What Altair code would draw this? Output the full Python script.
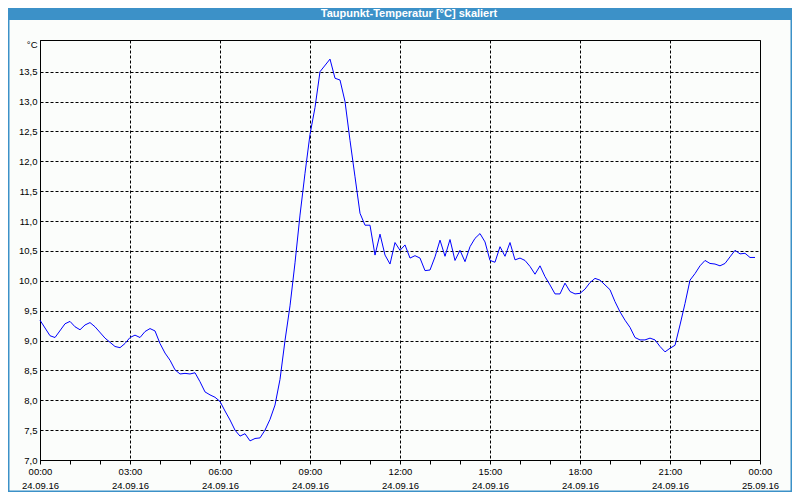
import json
import altair as alt
import pandas as pd

title_text = "Taupunkt-Temperatur [°C] skaliert"
unit_label = "°C"

# minutes after 24.09.16 00:00
minutes = [0, 20, 30, 50, 60, 70, 80, 90, 100, 110, 130, 150, 160, 170, 180, 190, 200,
           210, 220, 230, 240, 250, 260, 270, 280, 290, 300, 310, 320, 330, 340, 350, 360,
           370, 380, 390, 400, 410, 420, 430, 440, 450, 460, 470, 480, 490, 500, 510, 520,
           530, 540, 550, 560, 580, 590, 600, 610, 620, 630, 640, 650, 660, 670, 680, 690,
           700, 710, 720, 730, 740, 750, 760, 770, 780, 790, 800, 810, 820, 830, 840, 850,
           860, 870, 880, 890, 900, 910, 920, 930, 940, 950, 960, 970, 980, 990, 1000, 1010,
           1020, 1030, 1040, 1050, 1060, 1070, 1080, 1090, 1100, 1110, 1120, 1130, 1140, 1150,
           1160, 1170, 1180, 1190, 1200, 1210, 1220, 1230, 1240, 1250, 1260, 1270, 1280, 1290,
           1300, 1310, 1320, 1330, 1340, 1350, 1360, 1370, 1380, 1390, 1400, 1410, 1420, 1430]
dewpoint = [9.34, 9.08, 9.05, 9.28, 9.32, 9.23, 9.18, 9.26, 9.30, 9.23, 9.04, 8.90, 8.88, 8.95, 9.05, 9.09, 9.05,
            9.15, 9.20, 9.16, 8.95, 8.79, 8.67, 8.51, 8.44, 8.45, 8.44, 8.46, 8.31, 8.14, 8.09, 8.05, 7.98,
            7.82, 7.67, 7.50, 7.40, 7.44, 7.32, 7.36, 7.37, 7.50, 7.68, 7.92, 8.35, 9.00, 9.58, 10.30, 11.10,
            11.80, 12.45, 12.90, 13.50, 13.71, 13.39, 13.36, 13.00, 12.35, 11.74, 11.13, 10.93, 10.93, 10.43, 10.78, 10.43,
            10.28, 10.64, 10.51, 10.60, 10.38, 10.42, 10.38, 10.17, 10.18, 10.40, 10.68, 10.41, 10.69, 10.34, 10.51, 10.32,
            10.57, 10.71, 10.79, 10.65, 10.34, 10.31, 10.57, 10.41, 10.64, 10.35, 10.38, 10.34, 10.24, 10.11, 10.25, 10.07,
            9.93, 9.78, 9.78, 9.96, 9.82, 9.78, 9.79, 9.86, 9.97, 10.04, 10.01, 9.93, 9.85, 9.65,
            9.48, 9.34, 9.22, 9.05, 9.01, 9.01, 9.04, 9.01, 8.90, 8.81, 8.87, 8.92, 9.26, 9.62,
            10.01, 10.12, 10.25, 10.34, 10.29, 10.28, 10.25, 10.29, 10.40, 10.51, 10.45, 10.46, 10.39, 10.39]

x_tick_hours = list(range(25))
x_time_labels = ["00:00", "03:00", "06:00", "09:00", "12:00", "15:00", "18:00", "21:00", "00:00"]
x_date_labels = ["24.09.16"] * 8 + ["25.09.16"]
y_tick_values = [7.0, 7.5, 8.0, 8.5, 9.0, 9.5, 10.0, 10.5, 11.0, 11.5, 12.0, 12.5, 13.0, 13.5]
y_tick_labels = ["7,0", "7,5", "8,0", "8,5", "9,0", "9,5", "10,0", "10,5", "11,0", "11,5",
                 "12,0", "12,5", "13,0", "13,5"]

FONT = "Liberation Sans"
BLUE = "#3c91c8"

df = pd.DataFrame({"hour": [m / 60 for m in minutes], "value": dewpoint})

x_label_expr = (
    f"datum.value % 3 === 0 ? [{json.dumps(x_time_labels)}[datum.value / 3], "
    f"{json.dumps(x_date_labels)}[datum.value / 3]] : ''"
)
y_label_expr = f"{json.dumps(y_tick_labels)}[round((datum.value - 7) * 2)]"

x_axis = alt.Axis(
    values=x_tick_hours, tickSize=4, tickColor="black", domainColor="black",
    labelExpr=x_label_expr, labelFlush=False, labelOverlap=False, labelBound=False,
    labelPadding=2, labelLineHeight=14, labelFontSize=9.5, labelFont=FONT, labelColor="black",
    grid=True, gridColor="black", gridDash=[3, 2],
    gridOpacity={"condition": {"test": "datum.value % 3 === 0", "value": 1}, "value": 0},
    title=None,
)
y_axis = alt.Axis(
    values=y_tick_values, ticks=False, domainColor="black",
    labelExpr=y_label_expr, labelPadding=3, labelFontSize=9.5, labelFont=FONT, labelColor="black",
    grid=True, gridColor="black", gridDash=[3, 2],
    title=unit_label, titleAngle=0, titleAlign="right", titleBaseline="middle",
    titleX=-3, titleY=4, titleFontWeight="normal", titleFontSize=9.5, titleFont=FONT,
    titleColor="black",
)

title_df = pd.DataFrame({"t": [title_text]})

frame = alt.Chart(title_df).mark_rect(
    fillOpacity=0, stroke=BLUE, strokeWidth=1.5
).encode(x=alt.value(-31.25), x2=alt.value(751.25), y=alt.value(-31.25), y2=alt.value(451.25))

bar = alt.Chart(title_df).mark_rect(color=BLUE).encode(
    x=alt.value(-32), x2=alt.value(752), y=alt.value(-32), y2=alt.value(-20)
)

title = alt.Chart(title_df).mark_text(
    color="white", fontWeight="bold", fontSize=11, font=FONT, align="center", baseline="middle"
).encode(x=alt.value(369), y=alt.value(-26), text="t:N")

line = alt.Chart(df).mark_line(color="#0000ff", strokeWidth=1).encode(
    x=alt.X("hour:Q", scale=alt.Scale(domain=[0, 24], nice=False, zero=False), axis=x_axis),
    y=alt.Y("value:Q", scale=alt.Scale(domain=[7.0, 14.03], nice=False, zero=False), axis=y_axis),
)

chart = alt.layer(frame, bar, title, line).properties(
    width=720, height=420,
    autosize=alt.AutoSizeParams(type="none"),
    padding={"left": 32, "top": 32, "right": 32, "bottom": 32},
).configure(background="#fbfdfb").configure_view(stroke="black", strokeWidth=1)

chart.save("out.html", embed_options={"renderer": "svg", "actions": False})
